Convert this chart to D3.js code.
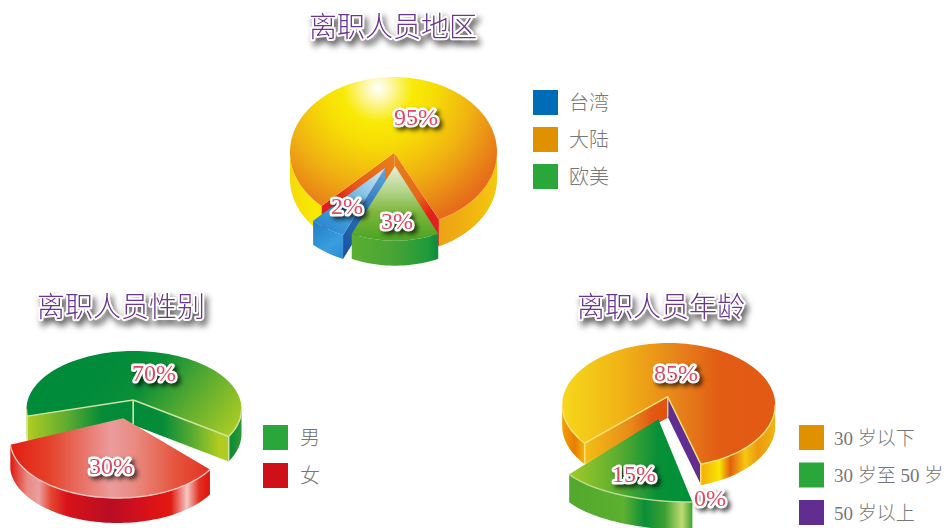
<!DOCTYPE html>
<html>
<head>
<meta charset="utf-8">
<script src="https://cdn.jsdelivr.net/npm/d3@7"></script>
<style>
  html, body { margin: 0; padding: 0; background: #fff; }
  svg { display: block; }
  .title { font: 300 28px "Liberation Serif", "Noto Sans CJK SC"; fill: #6a3593; stroke: #fff; stroke-width: 4px;
           paint-order: stroke; stroke-linejoin: round; text-anchor: middle;
           filter: drop-shadow(3px 5px 3px rgba(0,0,0,.6)); }
  .pct { font: 24px "Liberation Serif", serif; fill: #e04a62; stroke: #fff; stroke-width: 5px;
         paint-order: stroke; stroke-linejoin: round; text-anchor: middle;
         filter: drop-shadow(3px 3px 2px rgba(0,0,0,.65)); }
  .legend text { font: 300 20px "Liberation Serif", "Noto Sans CJK SC"; fill: #777; }
  .legend.small text { font-size: 19px; }
</style>
</head>
<body>
<svg id="chart" width="945" height="528"></svg>
<script>
// values as printed on the chart
const regionCategories = ["台湾", "大陆", "欧美"];
const regionValues = [2, 95, 3];
const genderCategories = ["男", "女"];
const genderValues = [70, 30];
const ageCategories = ["30 岁以下", "30 岁至 50 岁", "50 岁以上"];
const ageValues = [85, 15, 0];

// the picture is not drawn to scale, so the swept degrees are read off it separately
const regionSweep = [20, 290, 49.4];
const genderSweep = [226.6, 152.3];
const ageSweep = [290.5, 64.5, 0];

const legendColors = {
  region: ["#006cb7", "#e09100", "#2aa73a"],
  gender: ["#2aa73a", "#cf1019"],
  age: ["#e09100", "#2aa73a", "#622d91"]
};

const svg = d3.select("#chart");
const defs = svg.append("defs");
const rad = Math.PI / 180;

function linear(id, x1, y1, x2, y2, stops) {
  const g = defs.append("linearGradient").attr("id", id).attr("gradientUnits", "userSpaceOnUse")
    .attr("x1", x1).attr("y1", y1).attr("x2", x2).attr("y2", y2);
  stops.forEach(s => g.append("stop").attr("offset", s[0]).attr("stop-color", s[1]));
}
function radial(id, cx, cy, r, stops) {
  const g = defs.append("radialGradient").attr("id", id).attr("gradientUnits", "userSpaceOnUse")
    .attr("cx", cx).attr("cy", cy).attr("r", r);
  stops.forEach(s => g.append("stop").attr("offset", s[0]).attr("stop-color", s[1]));
}

// region
radial("rTop", 378, 88, 172, [[0, "#ffffff"], [.07, "#fdf8b0"], [.2, "#f9ea06"], [.32, "#f7de05"], [.55, "#f0b212"], [.82, "#e66f1a"], [1, "#e25519"]]);
linear("rWall", 290, 0, 497, 0, [[0, "#f5d90a"], [.12, "#f8ea00"], [.3, "#f7e000"], [.7, "#ed9f18"], [.88, "#f1b50f"], [1, "#f4ca0d"]]);
linear("rCutL", 394, 153, 322, 205, [[0, "#e8821a"], [.55, "#e65a1a"], [.85, "#e0201c"], [1, "#e0201c"]]);
linear("rCutR", 394, 153, 440, 222, [[0, "#e8821a"], [.6, "#e6681a"], [.85, "#e0201c"], [1, "#e0201c"]]);
linear("bTop", 385, 168, 325, 232, [[0, "#d4e8f6"], [.35, "#8fc7ea"], [.7, "#3f9fdc"], [1, "#2b86d0"]]);
linear("bWall", 312, 222, 342, 262, [[0, "#1f7cc6"], [.6, "#3a9ede"], [1, "#2a87d0"]]);
linear("bCut", 385, 170, 342, 255, [[0, "#5aa6dc"], [.5, "#2a6fb8"], [1, "#1c4f9e"]]);
linear("gTop", 395, 166, 395, 238, [[0, "#e6efdb"], [.3, "#bcd896"], [.65, "#7cb63c"], [1, "#4fa526"]]);
linear("gWall", 351, 0, 440, 0, [[0, "#5cae30"], [.5, "#46a436"], [.85, "#209a3a"], [1, "#0a8a3a"]]);

// gender
linear("mTop", 95, 380, 215, 470, [[0, "#008b3a"], [.28, "#0c8f38"], [.6, "#5cac30"], [1, "#b5d022"]]);
linear("mWall", 180, 0, 242, 0, [[0, "#b5d022"], [.7, "#a8c822"], [.82, "#0c8c38"], [1, "#2f9a34"]]);
linear("mWallL", 26, 0, 60, 0, [[0, "#b0cc22"], [1, "#a8c822"]]);
linear("mCutR", 133, 0, 219, 0, [[0, "#018a3a"], [.35, "#068c38"], [.7, "#5cac30"], [1, "#b0cc22"]]);
linear("mCutL", 27, 0, 133, 0, [[0, "#b0cc22"], [.35, "#66ae30"], [.7, "#068c38"], [1, "#018a3a"]]);
linear("fTop", 11, 0, 211, 0, [[0, "#e21d12"], [.2, "#e4442c"], [.5, "#ec9c9c"], [.62, "#e98a80"], [.82, "#e5553e"], [1, "#e33020"]]);
linear("fWall", 11, 0, 211, 0, [[0, "#e11a12"], [.08, "#e78a80"], [.14, "#eb9f9f"], [.2, "#e4452f"], [.28, "#d8121a"], [.5, "#b90d24"], [.66, "#d5101c"], [.8, "#e21a10"], [.88, "#f6c8c4"], [.94, "#e23022"], [1, "#e01010"]]);

// age
linear("aTop", 562, 0, 775, 0, [[0, "#f6d81a"], [.28, "#f1b315"], [.55, "#e6821a"], [.74, "#e25c14"], [1, "#e25a14"]]);
linear("aWall", 562, 0, 775, 0, [[0, "#f49f02"], [.06, "#e87c00"], [.1, "#f4ae08"], [.14, "#e88a04"], [.2, "#f0a008"], [.66, "#f3b30a"], [.74, "#f9e600"], [.79, "#e45e10"], [.86, "#f6c810"], [.92, "#ec9a10"], [1, "#f2b412"]]);
linear("aCutL", 585, 0, 668, 0, [[0, "#f2bf14"], [.55, "#e88a18"], [.8, "#e25a14"], [1, "#e2500f"]]);
linear("sTop", 568, 0, 692, 0, [[0, "#a6ca28"], [.4, "#5cae30"], [.72, "#089038"], [1, "#009038"]]);
linear("sWall", 568, 0, 692, 0, [[0, "#52a82c"], [.45, "#5cb030"], [.62, "#0a8e38"], [.78, "#3ca032"], [.92, "#c2da74"], [1, "#42a430"]]);

const regionSlices = [
  { cx: 384.5, cy: 168, rx: 103.5, ry: 73, ax: 385, ay: 168, depth: 24, start: 203.6, top: "bTop", wall: "bWall", cuts: [{ at: 0, fill: "bCut" }] },
  { cx: 393.5, cy: 152, rx: 103.5, ry: 75, ax: 394.3, ay: 152.7, depth: 27, start: 224, top: "rTop", wall: "rWall", cuts: [{ at: 0, fill: "rCutL" }, { at: 1, fill: "rCutR" }] },
  { cx: 395, cy: 166, rx: 103.5, ry: 74.7, ax: 395, ay: 166, depth: 25, start: 155.3, top: "gTop", wall: "gWall", cuts: [] }
];
const genderSlices = [
  { cx: 134, cy: 409, rx: 107.5, ry: 58, ax: 133.3, ay: 400, depth: 25, start: 263, top: "mTop", wall: "mWall", wall2: "mWallL", edge: "#cfe3a4", sides: true, cuts: [{ at: 0, fill: "mCutL" }, { at: 1, fill: "mCutR" }] },
  { cx: 117.5, cy: 440, rx: 107.5, ry: 58, ax: 123.3, ay: 418.3, depth: 25, start: 120.7, top: "fTop", wall: "fWall", edge: "#f2c4bc", cuts: [] }
];
const ageSlices = [
  { cx: 668.7, cy: 405, rx: 106.5, ry: 62, ax: 667.7, ay: 396.7, depth: 21, start: 232, top: "aTop", wall: "aWall", edge: "#f8e27a", sides: true, cuts: [{ at: 0, fill: "aCutL" }] },
  { cx: 690, cy: 452, rx: 135, ry: 50, ax: 658.3, ay: 419.3, depth: 28, start: 179, top: "sTop", wall: "sWall", edge: "#bcdc96", cuts: [] },
  { cx: 668.7, cy: 405, rx: 106.5, ry: 62, ax: 667.7, ay: 396.7, depth: 20, start: 162.5, top: null, wall: null, edge: "#f8e27a", sides: true, cuts: [{ at: 0, fill: "#622d91" }] }
];

const line = d3.line();

function onEllipse(s, deg) {
  return [s.cx + s.rx * Math.sin(deg * rad), s.cy - s.ry * Math.cos(deg * rad)];
}
function arcPoints(s, from, to) {
  const n = Math.max(2, Math.ceil(Math.abs(to - from) / 2));
  return d3.range(n + 1).map(i => onEllipse(s, from + (to - from) * i / n));
}
function paint(f) {
  return f.startsWith("#") ? f : `url(#${f})`;
}
function stroke(g, s, pts) {
  g.append("path").attr("d", line(pts)).attr("fill", "none").attr("stroke", s.edge).attr("stroke-width", 1.4);
}

function drawSlice(g, s, sweep) {
  const end = s.start + sweep;
  // parts of the rim that face the viewer
  const facing = [[90, 270], [450, 630]]
    .map(([lo, hi]) => [Math.max(s.start, lo), Math.min(end, hi)])
    .filter(r => r[1] > r[0]);

  if (s.wall) {
    facing.forEach(([a0, a1]) => {
      const topEdge = arcPoints(s, a0, a1);
      const lowEdge = topEdge.map(p => [p[0], p[1] + s.depth]).reverse();
      const fill = (s.wall2 && a1 <= 270) ? s.wall2 : s.wall;
      g.append("path").attr("d", line(topEdge.concat(lowEdge)) + "Z").attr("fill", paint(fill));
    });
  }

  // cut walls of the wedge
  s.cuts.forEach(c => {
    const p = onEllipse(s, c.at ? end : s.start);
    const pts = [[s.ax, s.ay], p, [p[0], p[1] + s.depth], [s.ax, s.ay + s.depth]];
    g.append("path").attr("d", line(pts) + "Z").attr("fill", paint(c.fill));
  });

  if (s.top) {
    const rim = arcPoints(s, s.start, end);
    g.append("path").attr("d", line([[s.ax, s.ay]].concat(rim)) + "Z").attr("fill", paint(s.top));
  }

  if (s.edge) {
    if (s.top) facing.forEach(([a0, a1]) => stroke(g, s, arcPoints(s, a0, a1)));
    if (s.sides) {
      s.cuts.forEach(c => {
        const p = onEllipse(s, c.at ? end : s.start);
        stroke(g, s, [[s.ax, s.ay], p]);
        stroke(g, s, [p, [p[0], p[1] + s.depth]]);
        stroke(g, s, [[s.ax, s.ay], [s.ax, s.ay + s.depth]]);
      });
    }
  }
}

function drawPie(sweeps, slices, order) {
  const total = d3.sum(sweeps);
  const arcs = d3.pie().sort(null).startAngle(0).endAngle(total * rad)(sweeps);
  const g = svg.append("g");
  order.forEach(i => {
    drawSlice(g, slices[i], (arcs[i].endAngle - arcs[i].startAngle) / rad);
  });
}

function drawLegend(categories, colors, x, textX, top, bottom, cls) {
  const y = d3.scalePoint().domain(categories).range([top, bottom]);
  const color = d3.scaleOrdinal().domain(categories).range(colors);
  const g = svg.append("g").attr("class", "legend " + (cls || ""));
  categories.forEach(c => {
    g.append("rect").attr("x", x).attr("y", y(c)).attr("width", 25).attr("height", 25).attr("fill", color(c));
    g.append("text").attr("x", textX).attr("y", y(c) + 19.5).text(c);
  });
}

function drawLabels(values, spots) {
  values.forEach((v, i) => {
    svg.append("text").attr("class", "pct").attr("x", spots[i][0]).attr("y", spots[i][1]).text(v + "%");
  });
}

function drawTitle(text, x, y) {
  svg.append("text").attr("class", "title").attr("x", x).attr("y", y).text(text);
}

drawPie(regionSweep, regionSlices, [1, 0, 2]);
drawPie(genderSweep, genderSlices, [0, 1]);
drawPie(ageSweep, ageSlices, [0, 2, 1]);

drawTitle("离职人员地区", 393, 37);
drawTitle("离职人员性别", 121, 317);
drawTitle("离职人员年龄", 661, 317);

drawLabels(regionValues, [[347, 214], [416, 125], [397, 229]]);
drawLabels(genderValues, [[154, 381], [111, 474]]);
drawLabels(ageValues, [[676, 381], [634, 482], [710, 506]]);

drawLegend(regionCategories, legendColors.region, 533, 569, 90, 164);
drawLegend(genderCategories, legendColors.gender, 263, 300, 425, 463);
drawLegend(ageCategories, legendColors.age, 799, 834, 425, 500, "small");
</script>
</body>
</html>
